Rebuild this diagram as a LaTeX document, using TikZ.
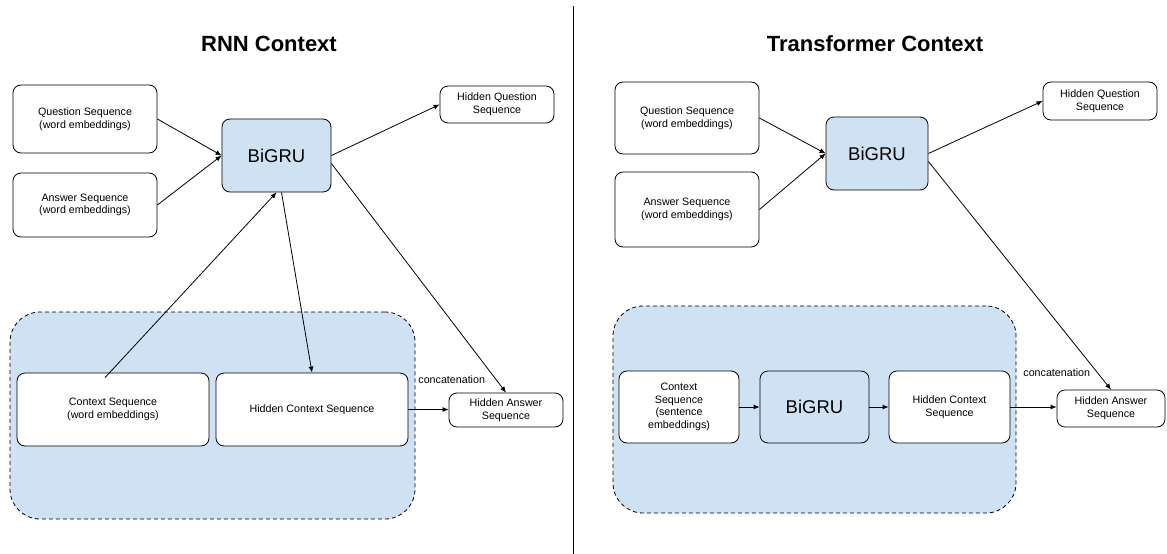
\documentclass[tikz,border=0pt]{standalone}
\usepackage{fontspec}
\setmainfont{Liberation Sans}
\usetikzlibrary{arrows.meta,calc}
\definecolor{gblue}{HTML}{CFE2F3}

\begin{document}
\begin{tikzpicture}
  [x=1pt,y=-1pt,line width=0.8pt,
   every node/.style={inner sep=0pt,align=center,font=\fontsize{10.7}{12.7}\selectfont},
   box/.style={draw,rounded corners=8pt,fill=white},
   gru/.style={box,fill=gblue,font=\fontsize{18.5}{22}\selectfont},
   group/.style={draw,dash pattern=on 4pt off 3pt,rounded corners=30pt,fill=gblue},
   title/.style={font=\fontsize{22}{26}\selectfont\bfseries},
   link/.style={-{Latex[length=6pt,width=5pt]}}]

  \useasboundingbox (0,0) rectangle (1167,554);

  % RNN context
  \node[title] (t1) at (269,44) {RNN Context};
  \node[box,minimum width=144pt,minimum height=68pt] (q1) at (85,119) {Question Sequence\\(word embeddings)};
  \node[box,minimum width=144pt,minimum height=64pt] (a1) at (85,205) {Answer Sequence\\(word embeddings)};
  \node[gru,minimum width=109pt,minimum height=73pt] (gru1) at (276.5,155.5) {BiGRU};
  \node[box,minimum width=114pt,minimum height=37pt] (hq1) at (497,104.5) {Hidden Question\\Sequence};
  \node[group,minimum width=405pt,minimum height=207pt] (grp1) at (212.5,415.5) {};
  \node[box,minimum width=192pt,minimum height=73pt] (ctx1) at (113,409.5) {Context Sequence\\(word embeddings)};
  \node[box,minimum width=192pt,minimum height=73pt] (hc1) at (312,409.5) {Hidden Context Sequence};
  \node[box,minimum width=114pt,minimum height=34pt] (ha1) at (506,410) {Hidden Answer\\Sequence};
  \node[anchor=base west] (cat1) at (418,383) {concatenation};

  \foreach \from/\to in {q1/gru1,a1/gru1,gru1/hq1}
    \draw[link] (\from.east) -- (\to.west);
  \draw[link] ($(gru1.east)+(0,8)$) -- (ha1.north);
  \draw[link] ($(ctx1.north)+(-8,5)$) -- (gru1.south);
  \draw[link] ($(gru1.south)+(5,0)$) -- (hc1.north);
  \draw[link] (hc1.east) -- (hc1.east -| ha1.west);

  % divider
  \coordinate (top) at (573,6);
  \coordinate (bot) at (573,554);
  \draw[line width=1pt] (top) -- (bot);

  % Transformer context
  \node[title] (t2) at (875,44) {Transformer Context};
  \node[box,minimum width=144pt,minimum height=72pt] (q2) at (687,118) {Question Sequence\\(word embeddings)};
  \node[box,minimum width=144pt,minimum height=75pt] (a2) at (687,209.5) {Answer Sequence\\(word embeddings)};
  \node[gru,minimum width=102pt,minimum height=73pt] (gru2) at (877,153.5) {BiGRU};
  \node[box,minimum width=114pt,minimum height=38pt] (hq2) at (1100,101) {Hidden Question\\Sequence};
  \node[group,minimum width=403pt,minimum height=207pt] (grp2) at (814.5,409.5) {};
  \node[box,minimum width=120pt,minimum height=72pt] (ctx2) at (679,407) {Context\\Sequence\\(sentence\\embeddings)};
  \node[gru,minimum width=109pt,minimum height=72pt] (bg2) at (814.5,407) {BiGRU};
  \node[box,minimum width=121pt,minimum height=72pt] (hc2) at (949.5,407) {Hidden Context\\Sequence};
  \node[box,minimum width=108pt,minimum height=37pt] (ha2) at (1111,408.5) {Hidden Answer\\Sequence};
  \node[anchor=base west] (cat2) at (1023,376) {concatenation};

  \foreach \from/\to in {q2/gru2,a2/gru2,gru2/hq2,ctx2/bg2,bg2/hc2}
    \draw[link] (\from.east) -- (\to.west);
  \draw[link] ($(gru2.east)+(0,8)$) -- (ha2.north);
  \draw[link] (hc2.east) -- (hc2.east -| ha2.west);

\end{tikzpicture}
\end{document}
